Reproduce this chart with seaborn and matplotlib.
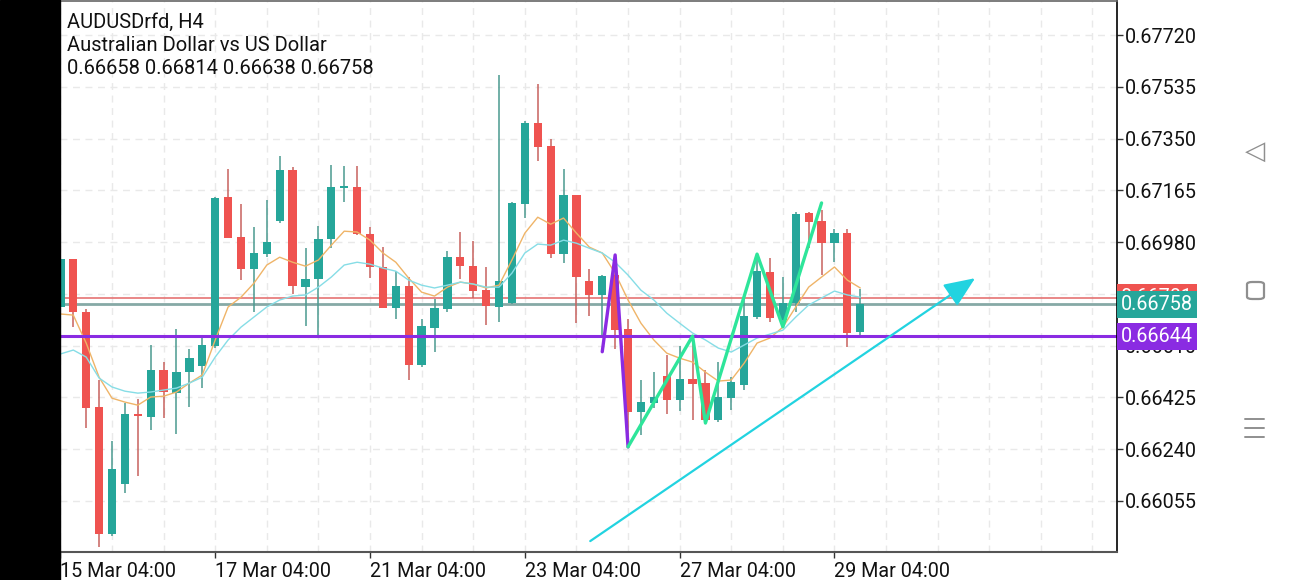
import matplotlib
matplotlib.use("Agg")
import matplotlib.pyplot as plt
import matplotlib.transforms as mtransforms
from matplotlib.patches import Rectangle, ArrowStyle, FancyBboxPatch
from matplotlib.lines import Line2D
import seaborn as sns
import numpy as np

# ---------------- data ----------------
opens = [0.66748, 0.66919, 0.66730, 0.66390, 0.65936, 0.66115, 0.66365, 0.66354, 0.66522, 0.66440,
         0.66515, 0.66537, 0.66608, 0.67141, 0.66998, 0.66883, 0.66937, 0.67055, 0.67237, 0.66819,
         0.66848, 0.66991, 0.67173, 0.67177, 0.67009, 0.66891, 0.66744, 0.66823, 0.66540, 0.66673,
         0.66740, 0.66926, 0.66894, 0.66808, 0.66748, 0.66762, 0.67116, 0.67405, 0.67323, 0.66937,
         0.67148, 0.66841, 0.66791, 0.66862, 0.66669, 0.66372, 0.66404, 0.66501, 0.66415, 0.66490,
         0.66476, 0.66344, 0.66422, 0.66469, 0.66712, 0.66873, 0.66701, 0.66762, 0.67084, 0.67055,
         0.66976, 0.67012, 0.66658]
highs = [0.66925, 0.66921, 0.66740, 0.66487, 0.66269, 0.66404, 0.66419, 0.66612, 0.66551, 0.66669,
         0.66597, 0.66640, 0.67141, 0.67241, 0.67116, 0.67034, 0.67130, 0.67287, 0.67248, 0.66959,
         0.67037, 0.67255, 0.67252, 0.67252, 0.67034, 0.66962, 0.66876, 0.66855, 0.66705, 0.66776,
         0.66948, 0.67016, 0.66984, 0.66891, 0.67577, 0.67123, 0.67413, 0.67545, 0.67348, 0.67241,
         0.67150, 0.66884, 0.66862, 0.66873, 0.66705, 0.66487, 0.66515, 0.66576, 0.66608, 0.66630,
         0.66522, 0.66551, 0.66497, 0.66780, 0.66930, 0.66923, 0.66855, 0.67087, 0.67087, 0.67094,
         0.67026, 0.67026, 0.66814]
lows = [0.66745, 0.66676, 0.66315, 0.65890, 0.65930, 0.66083, 0.66143, 0.66308, 0.66351, 0.66294,
        0.66390, 0.66458, 0.66600, 0.66994, 0.66844, 0.66730, 0.66926, 0.67050, 0.66794, 0.66680,
        0.66648, 0.66959, 0.67123, 0.67005, 0.66851, 0.66744, 0.66705, 0.66487, 0.66533, 0.66587,
        0.66730, 0.66848, 0.66780, 0.66683, 0.66694, 0.66760, 0.67066, 0.67270, 0.66923, 0.66905,
        0.66690, 0.66715, 0.66648, 0.66597, 0.66247, 0.66290, 0.66387, 0.66365, 0.66376, 0.66344,
        0.66337, 0.66337, 0.66380, 0.66451, 0.66705, 0.66694, 0.66676, 0.66730, 0.66959, 0.66862,
        0.66908, 0.66605, 0.66638]
closes = [0.66919, 0.66730, 0.66387, 0.65936, 0.66168, 0.66365, 0.66358, 0.66522, 0.66444, 0.66515,
          0.66565, 0.66612, 0.67137, 0.66994, 0.66883, 0.66941, 0.66980, 0.67237, 0.66823, 0.66848,
          0.66991, 0.67177, 0.67180, 0.67009, 0.66891, 0.66744, 0.66823, 0.66540, 0.66680, 0.66744,
          0.66926, 0.66894, 0.66805, 0.66751, 0.66841, 0.67119, 0.67405, 0.67320, 0.66937, 0.67148,
          0.66855, 0.66791, 0.66858, 0.66665, 0.66372, 0.66408, 0.66426, 0.66415, 0.66490, 0.66472,
          0.66344, 0.66426, 0.66479, 0.66715, 0.66876, 0.66708, 0.66762, 0.67080, 0.67051, 0.66976,
          0.67012, 0.66655, 0.66758]

ma_fast = [0.66723, 0.66719, 0.66619, 0.66497, 0.66422, 0.66408, 0.66397, 0.66426, 0.66429, 0.66444,
           0.66476, 0.66505, 0.66630, 0.66748, 0.66783, 0.66833, 0.66898, 0.66926, 0.66908, 0.66894,
           0.66916, 0.66969, 0.67019, 0.67016, 0.66987, 0.66941, 0.66908, 0.66851, 0.66801, 0.66787,
           0.66819, 0.66837, 0.66830, 0.66816, 0.66826, 0.66916, 0.67012, 0.67069, 0.67044, 0.67066,
           0.67012, 0.66962, 0.66941, 0.66869, 0.66773, 0.66690, 0.66630, 0.66583, 0.66565, 0.66551,
           0.66515, 0.66483, 0.66487, 0.66547, 0.66619, 0.66637, 0.66676, 0.66748, 0.66819, 0.66855,
           0.66891, 0.66844, 0.66816]
ma_slow = [0.66580, 0.66594, 0.66569, 0.66494, 0.66462, 0.66447, 0.66440, 0.66444, 0.66451, 0.66458,
           0.66476, 0.66497, 0.66569, 0.66630, 0.66676, 0.66712, 0.66748, 0.66773, 0.66787, 0.66791,
           0.66819, 0.66855, 0.66898, 0.66908, 0.66901, 0.66887, 0.66876, 0.66844, 0.66826, 0.66816,
           0.66826, 0.66837, 0.66830, 0.66819, 0.66819, 0.66869, 0.66941, 0.66973, 0.66969, 0.66987,
           0.66976, 0.66958, 0.66941, 0.66908, 0.66862, 0.66808, 0.66773, 0.66726, 0.66690, 0.66655,
           0.66630, 0.66601, 0.66587, 0.66612, 0.66637, 0.66651, 0.66665, 0.66712, 0.66755, 0.66780,
           0.66805, 0.66791, 0.66783]

zz_purple_x = [42, 43, 44]
zz_purple_y = [0.66588, 0.66934, 0.66248]
zz_green_x = [44, 49, 50, 54, 56, 59]
zz_green_y = [0.66248, 0.66644, 0.66333, 0.66937, 0.66677, 0.67120]

arrow_x = [41.07, 70.9]
arrow_y = [0.65911, 0.66851]

level_ask = 0.66781
level_bid = 0.66758
level_purple = 0.66644
ask_label = "0.66781"
bid_label = "0.66758"
purple_label = "0.66644"

price_ticks = [0.66055, 0.66240, 0.66425, 0.66610, 0.66795, 0.66980, 0.67165, 0.67350, 0.67535, 0.67720]
hidden_ticks = [0.66795]   # label fully covered by the price boxes in the reference
time_pos = [0, 12, 24, 36, 48, 60]
time_labels = ["15 Mar 04:00", "17 Mar 04:00", "21 Mar 04:00", "23 Mar 04:00", "27 Mar 04:00", "29 Mar 04:00"]

header_lines = ["AUDUSDrfd, H4", "Australian Dollar vs US Dollar", "0.66658 0.66814 0.66638 0.66758"]

# ---------------- style ----------------
sns.set_theme(style="white")
plt.rcParams['font.family'] = ['Roboto', 'DejaVu Sans']

UP = "#26a69a"
DN = "#ef5350"
UP_W = "#4a9a90"
DN_W = "#c7625e"
ICON = "#8f8f8f"

W, H = 1290, 580
fig = plt.figure(figsize=(W / 100, H / 100), dpi=100)
fig.patch.set_facecolor("white")
ax = fig.add_axes([60 / W, 1 - 552 / H, (1117 - 60) / W, (552 - 1) / H])
ax.set_facecolor("white")

# black strip on the left
fig.patches.append(Rectangle((0, 0), 59.5 / W, 1, transform=fig.transFigure, color="black", zorder=0))

idx = np.arange(len(opens))
o = np.array(opens); h = np.array(highs); l = np.array(lows); c = np.array(closes)
up = c >= o

# wicks
ax.vlines(idx[up], l[up], h[up], color=UP_W, lw=1.1, zorder=3)
ax.vlines(idx[~up], l[~up], h[~up], color=DN_W, lw=1.1, zorder=3)
# bodies
body_bottom = np.minimum(o, c)
body_h = np.maximum(np.abs(c - o), 0.00005)
ax.bar(idx[up], body_h[up], bottom=body_bottom[up], width=0.64, color=UP, zorder=4, linewidth=0)
ax.bar(idx[~up], body_h[~up], bottom=body_bottom[~up], width=0.64, color=DN, zorder=4, linewidth=0)

# moving averages
sns.lineplot(x=idx, y=ma_fast, color="#efb468", lw=1.0, ax=ax, zorder=5)
sns.lineplot(x=idx, y=ma_slow, color="#86dde6", lw=1.0, ax=ax, zorder=5)

# horizontal levels
ax.axhline(level_ask, color="#e57373", lw=1.2, zorder=2)
ax.axhline(level_bid, color="#86a9a6", lw=2.0, zorder=2)
ax.axhline(level_purple, color="#8a2be2", lw=2.2, zorder=6)

# zigzags
sns.lineplot(x=zz_purple_x, y=zz_purple_y, color="#8a2be2", lw=2.4, ax=ax, sort=False, zorder=7)
sns.lineplot(x=zz_green_x, y=zz_green_y, color="#2ee59a", lw=2.4, ax=ax, sort=False, zorder=7)

# arrow
ax.annotate("", xy=(arrow_x[1], arrow_y[1]), xytext=(arrow_x[0], arrow_y[0]),
            arrowprops=dict(arrowstyle=ArrowStyle("-|>", head_length=1.9, head_width=0.8),
                            mutation_scale=10, color="#22d3e0", lw=1.6,
                            shrinkA=0, shrinkB=0), zorder=8)

# axes limits
ax.set_xlim(-0.03, 81.9)
ax.set_ylim(0.65872, 0.67842)

# grid and ticks
ax.set_xticks(np.arange(0, 82, 4), minor=True)
ax.set_xticks(time_pos)
ax.set_xticklabels(time_labels, ha="left", fontsize=14.2, color="#111111")
ax.set_yticks(price_ticks)
ax.set_yticklabels(["" if p in hidden_ticks else f"{p:.5f}" for p in price_ticks],
                   fontsize=14.2, color="#111111")
ax.yaxis.tick_right()
ax.grid(True, which="both", color="#e9e9e9", lw=1.0, ls=(0, (5, 4)), zorder=0)
ax.tick_params(axis="x", which="major", direction="out", length=4, width=1, color="#333333", pad=3,
               bottom=True)
ax.tick_params(axis="x", which="minor", length=0)
ax.tick_params(axis="y", which="major", direction="out", length=4, width=1, color="#333333", pad=2,
               right=True, left=False)

for side in ["left", "right"]:
    ax.spines[side].set_color("black")
    ax.spines[side].set_linewidth(1.2)
ax.spines["bottom"].set_color("#555555")
ax.spines["bottom"].set_linewidth(1.5)
ax.spines["top"].set_color("#666666")
ax.spines["top"].set_linewidth(1.2)
for s in ax.spines.values():
    s.set_zorder(9)

# price label boxes on the right axis
trans = mtransforms.blended_transform_factory(ax.transAxes, ax.transData)
for lvl, txt, col in [(level_ask, ask_label, DN), (level_bid, bid_label, UP), (level_purple, purple_label, "#8a2be2")]:
    ax.text(1.0035, lvl, txt, transform=trans, ha="left", va="center", color="white", fontsize=14.2,
            bbox=dict(boxstyle="square,pad=0.2", fc=col, ec="none"), clip_on=False, zorder=20)

# header text
for i, line in enumerate(header_lines):
    fig.text(67 / W, 1 - (22 + i * 23.5) / H, line, ha="left", va="center", fontsize=14.5, color="#111111")

# navigation icons (drawn as shapes)
fig.text(1255 / W, 1 - 152 / H, "◁", ha="center", va="center", fontsize=19, color=ICON,
         family=["DejaVu Sans"])
fig.patches.append(FancyBboxPatch((1247 / W, 1 - 299 / H), 17 / W, 17 / H,
                                  boxstyle="round,pad=0,rounding_size=0.004",
                                  transform=fig.transFigure, fc="none", ec=ICON, lw=1.6))
for yy in [419, 428, 437]:
    fig.lines.append(Line2D([1245 / W, 1264 / W], [1 - yy / H, 1 - yy / H], transform=fig.transFigure,
                            color=ICON, lw=1.4))

fig.savefig("out.png", dpi=100)
